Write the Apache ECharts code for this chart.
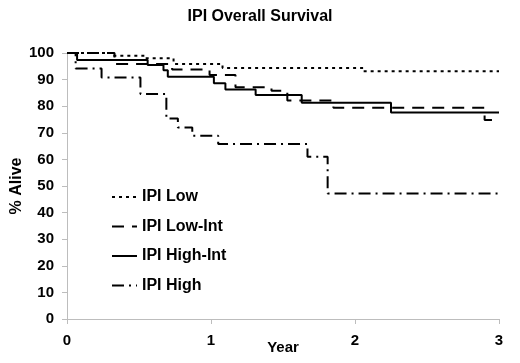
<!DOCTYPE html>
<html>
<head>
<meta charset="utf-8">
<script src="https://cdn.jsdelivr.net/npm/echarts@6/dist/echarts.min.js"></script>
<style>
	html, body { margin: 0; padding: 0; background: #fff; }
	#main { width: 520px; height: 363px; }
</style>
</head>
<body>
<div id="main"></div>
<script>
//曲线名称
var seriesNames = ['IPI Low', 'IPI Low-Int', 'IPI High-Int', 'IPI High'];
//各组拐点（年，存活%）
var lowYear = [0, 0.31, 0.54, 0.74, 1.08, 2.06, 3];
var lowAlive = [100, 99, 98, 95.9, 94.4, 93.1, 93.1];
var lowIntYear = [0, 0.33, 0.73, 0.99, 1.17, 1.42, 1.53, 1.85, 2.9, 3];
var lowIntAlive = [100, 95.9, 93.8, 91.7, 87.1, 85.8, 82.1, 79.4, 74.8, 74.8];
var highIntYear = [0, 0.07, 0.56, 0.67, 0.7, 1.02, 1.1, 1.31, 1.63, 2.25, 3];
var highIntAlive = [100, 97.4, 95.5, 93.5, 91.1, 88.6, 86.3, 84.2, 81.3, 77.6, 77.6];
var highYear = [0, 0.06, 0.24, 0.51, 0.69, 0.77, 0.87, 1.05, 1.67, 1.81, 3];
var highAlive = [100, 94.2, 90.8, 84.6, 75.4, 72, 68.9, 65.8, 61, 47.2, 47.2];
//坐标刻度
var yearTicks = [0, 1, 2, 3];
var aliveMax = 100;

function pairs(xs, ys) {
	return xs.map(function (x, i) {
		return [x, ys[i]];
	});
}

var dashTypes = [[3, 4], [12, 8], 'solid', [12, 5, 2, 5]];
var allData = [
	pairs(lowYear, lowAlive),
	pairs(lowIntYear, lowIntAlive),
	pairs(highIntYear, highIntAlive),
	pairs(highYear, highAlive)
];

var font = 'Liberation Sans, Arial, sans-serif';
var option = {
	backgroundColor: '#fff',
	animation: false,
	title: {
		text: 'IPI Overall Survival',
		left: 'center',
		top: 4,
		textStyle: { fontFamily: font, fontSize: 16, fontWeight: 'bold', color: '#000' }
	},
	legend: {
		orient: 'vertical',
		left: 106,
		top: 184,
		itemWidth: 25,
		itemHeight: 14,
		itemGap: 13.5,
		itemStyle: { opacity: 0 },
		data: seriesNames,
		textStyle: { fontFamily: font, fontSize: 16, fontWeight: 'bold', color: '#000' }
	},
	grid: {
		left: 67,
		right: 21,
		top: 53,
		bottom: 44,
		outerBoundsMode: 'none'
	},
	xAxis: {
		type: 'value',
		min: yearTicks[0],
		max: yearTicks[yearTicks.length - 1],
		interval: 1,
		name: 'Year',
		nameLocation: 'middle',
		nameGap: 21,
		nameMoveOverlap: false,
		nameTextStyle: { fontFamily: font, fontSize: 15, fontWeight: 'bold', color: '#000' },
		axisLine: { lineStyle: { color: '#bdbdbd', width: 1 } },
		axisTick: { show: true, length: 5, lineStyle: { color: '#bdbdbd' } },
		axisLabel: { margin: 14, fontFamily: font, fontSize: 15, fontWeight: 'bold', color: '#000' },
		splitLine: { show: false }
	},
	yAxis: {
		type: 'value',
		min: 0,
		max: aliveMax,
		interval: 10,
		name: '% Alive',
		nameLocation: 'middle',
		nameGap: 42,
		nameMoveOverlap: false,
		nameTextStyle: { fontFamily: font, fontSize: 16, fontWeight: 'bold', color: '#000' },
		axisLine: { show: true, lineStyle: { color: '#bdbdbd', width: 1 } },
		axisTick: { show: true, length: 5, lineStyle: { color: '#bdbdbd' } },
		axisLabel: { margin: 13, fontFamily: font, fontSize: 15, fontWeight: 'bold', color: '#000' },
		splitLine: { show: false }
	},
	series: seriesNames.map(function (name, i) {
		return {
			name: name,
			type: 'line',
			step: 'end',
			symbol: 'none',
			showSymbol: false,
			color: '#000',
			lineStyle: { color: '#000', width: 2, type: dashTypes[i] },
			data: allData[i]
		};
	})
};

echarts.init(document.getElementById('main')).setOption(option);
</script>
</body>
</html>
